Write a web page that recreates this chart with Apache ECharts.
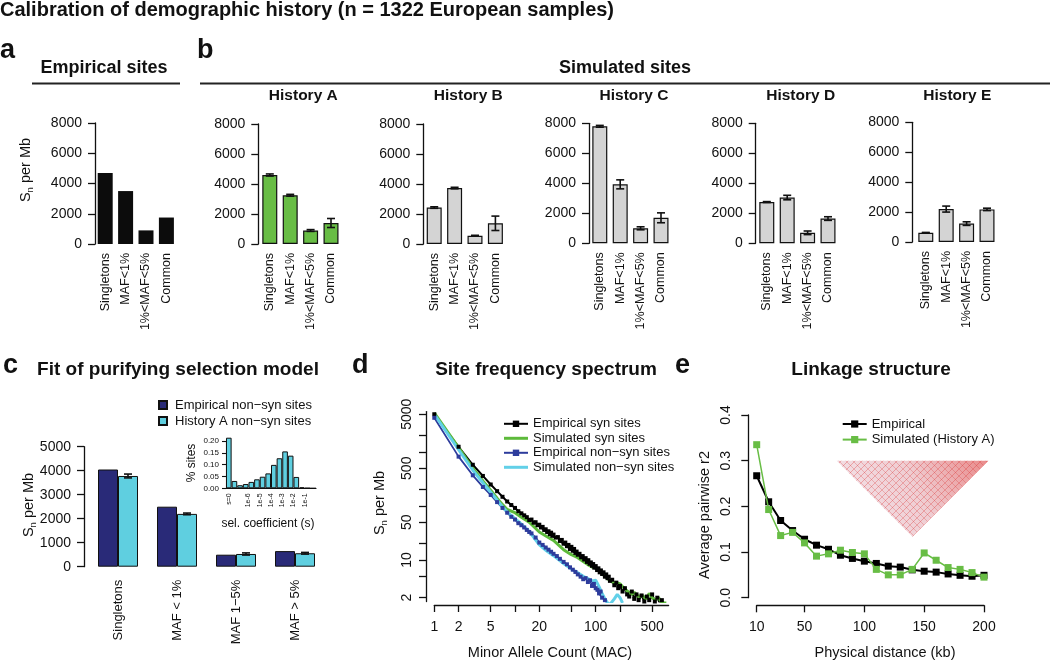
<!DOCTYPE html>
<html><head><meta charset="utf-8">
<script src="https://cdn.jsdelivr.net/npm/echarts@6/dist/echarts.min.js"></script>
<style>html,body{margin:0;padding:0;background:#fff}#c{width:1050px;height:662px}</style>
</head><body><div id="c"></div>
<script>
// ================= DATA =================
const mafCats = ['Singletons', 'MAF<1%', '1%<MAF<5%', 'Common'];
const empiricalSites = [4700, 3500, 900, 1750];
const historyNames = ['History A', 'History B', 'History C', 'History D', 'History E'];
const historyA = [4600, 3250, 900, 1400];
const historyAErr = [70, 60, 60, 300];
const historyB = [2430, 3730, 550, 1380];
const historyBErr = [50, 50, 30, 480];
const historyC = [7800, 3930, 1000, 1700];
const historyCErr = [60, 300, 100, 330];
const historyD = [2750, 3050, 700, 1650];
const historyDErr = [30, 150, 120, 120];
const historyE = [620, 2200, 1230, 2180];
const historyEErr = [20, 200, 120, 80];
const snTicks = [0, 2000, 4000, 6000, 8000];

const cCats = ['Singletons', 'MAF < 1%', 'MAF 1\u22125%', 'MAF > 5%'];
const empNonSyn = [4050, 2500, 500, 650];
const histANonSyn = [3780, 2200, 530, 560];
const histANonSynErr = [80, 35, 45, 35];

const selBinCenters = [0.5, 1.5, 2.5, 3.5, 4.5, 5.5, 6.5, 7.5, 8.5, 9.5, 10.5, 11.5, 12.5, 13.5, 14.5, 15.5];
const selFrac = [0.214, 0.031, 0.013, 0.018, 0.027, 0.038, 0.049, 0.063, 0.099, 0.127, 0.156, 0.138, 0.048, 0.004, 0.001, 0];
const selTickPos = [0.5, 4, 6, 8, 10, 12, 14];
const selTickLabels = ['s=0', '1e-6', '1e-5', '1e-4', '1e-3', '1e-2', '1e-1'];

const macEmpSyn = [1,2,3,4,5,6,7,8,9,10,11,12,13,14,15,16,17,18,19,20,21,22,23,24,25,26,27,28,29,30,32,34,36,38,40,42,44,46,48,50,52,54,56,58,60,63,66,69,72,75,78,81,84,87,90,93,96,100,104,108,112,116,120,125,130,135,140,145,150,160,170,180,190,200,215,230,245,260,280,300,320,340,370,400,430,460,500,540,580,620,660];
const empSyn = [5000,1250,580,360,250,188,148,121,104,92,80,73,67,62,55,56,49,50,44,45,40,41,36,37,33,34,30,32,28,29.5,26,26.5,22.5,23.5,20,21,18,19,16,17.5,14.8,16,13.5,14.3,12.5,13,11.2,11.8,10.2,10.8,9.2,9.9,8.5,9.0,7.8,8.4,7.2,7.7,6.5,7.0,5.9,6.4,5.5,5.9,4.9,5.4,4.6,4.9,4.1,4.3,3.4,3.8,3.0,3.3,2.6,3.0,2.3,2.1,2.6,1.9,2.3,1.8,2.2,1.7,2.1,1.8,2.3,1.7,2.0,1.6,1.8];
const macSimSyn = [1,2,3,4,5,6,7,8,10,12,15,20,25,30,40,50,60,70,80,90,100,110,120,140,160,180,200,220,250,280,300,340,380,420,460,500,550,600,650,700,750];
const simSyn = [5300,1200,500,290,195,140,106,86,75,62,50,33,27,23,15.5,12.5,11,9.4,8.2,7.4,7.1,6.6,5.6,4.5,3.9,3.8,3.6,3.1,2.6,2.3,2.5,2.1,2.2,1.9,2.4,2.0,1.8,2.0,1.7,1.6,1.6];
const macEmpNon = [1,2,3,4,5,6,7,8,9,10,11,12,13,14,15,16,18,20,22,24,26,28,30,33,36,40,44,48,52,56,60,65,70,75,80,85,90,95,100,105,110,115,120,130,140];
const empNon = [4300,820,370,225,160,118,92,75,63,56,48,44,40,36,33,31,26,21,19,17,15.5,14.2,13,11.8,10.5,9.2,8.3,7.3,6.6,6.0,5.4,4.9,4.4,4.6,3.9,4.2,3.3,3.6,3.0,2.8,2.4,2.6,2.0,1.8,1.6];
const macSimNon = [1,2,3,4,5,6,7,8,10,12,15,20,25,30,40,50,60,70,80,90,100,110,120,130,140,150,170,185,200,215];
const simNon = [5000,1100,460,270,180,128,97,77,58,46,34,19,14.5,12,8.6,6.8,5.8,5.0,4.5,4.1,4.2,3.2,2.4,1.9,1.6,1.5,1.9,2.3,2.0,1.6];
const sfsXTicks = [1, 2, 5, 10, 20, 50, 100, 200, 500];
const sfsXLabels = [1, 2, 5, 20, 100, 500];
const sfsYTicks = [2, 5, 10, 20, 50, 100, 200, 500, 1000, 2000, 5000];
const sfsYLabels = [2, 10, 50, 500, 5000];

const distKb = [10,20,30,40,50,60,70,80,90,100,110,120,130,140,150,160,170,180,190,200];
const empR2 = [0.267,0.210,0.169,0.147,0.128,0.115,0.106,0.093,0.086,0.080,0.075,0.069,0.067,0.061,0.058,0.056,0.052,0.049,0.047,0.049];
const simR2 = [0.335,0.193,0.136,0.143,0.120,0.091,0.096,0.104,0.099,0.096,0.062,0.050,0.050,0.062,0.098,0.082,0.066,0.062,0.055,0.045];
const ldXTicks = [10, 50, 100, 150, 200];

// ================= STYLE / LAYOUT =================
const F = '"Liberation Sans", Arial, Helvetica, sans-serif';
const INK = '#111';
const GREEN = '#68bd45', GRAY = '#d4d4d4', NAVY = '#292a78', CYAN = '#5fcfe0', BLUE = '#2d3c9c', CYANL = '#62d0e8';
const plain = v => String(v);

const bValues = [empiricalSites, historyA, historyB, historyC, historyD, historyE];
const bErrors = [null, historyAErr, historyBErr, historyCErr, historyDErr, historyEErr];
const bColors = ['#0c0c0c', GREEN, GRAY, GRAY, GRAY, GRAY];
const bLayout = [
  {axisX: 95, barsX: 97.7, top: 123, bottom: 244},
  {axisX: 258.3, barsX: 262.3, top: 124, bottom: 244},
  {axisX: 423.3, barsX: 426.7, top: 124, bottom: 244},
  {axisX: 589, barsX: 592.3, top: 123.3, bottom: 243.3},
  {axisX: 755.7, barsX: 759.3, top: 123.3, bottom: 243.3},
  {axisX: 912.3, barsX: 918.3, top: 122.3, bottom: 242}
];
const PITCH = 20.4, BARW = 15;

const grids = [], xAxes = [], yAxes = [], series = [], graphics = [];

function errSeries(idx, vals, errs, dx, capW) {
  return {
    type: 'custom', xAxisIndex: idx, yAxisIndex: idx, z: 5, silent: true,
    encode: {x: 0, y: 1},
    data: vals.map((v, i) => [i, v, errs[i]]),
    renderItem(params, api) {
      const x = api.value(0), v = api.value(1), e = api.value(2);
      const t = api.coord([x, v + e]), b = api.coord([x, v - e]);
      const cx = t[0] + dx, h = capW / 2;
      const st = {stroke: INK, lineWidth: 1.6};
      return {type: 'group', children: [
        {type: 'line', shape: {x1: cx, y1: t[1], x2: cx, y2: b[1]}, style: st},
        {type: 'line', shape: {x1: cx - h, y1: t[1], x2: cx + h, y2: t[1]}, style: st},
        {type: 'line', shape: {x1: cx - h, y1: b[1], x2: cx + h, y2: b[1]}, style: st}
      ]};
    }
  };
}

function txt(x, y, text, size, opts) {
  opts = opts || {};
  graphics.push({
    type: 'text', x: x, y: y, rotation: opts.rot || 0, silent: true,
    style: Object.assign({
      text: text, fontSize: size, fontFamily: F, fontWeight: opts.bold ? 'bold' : 'normal',
      fill: INK, align: opts.align || 'center', verticalAlign: 'middle',
      textAlign: opts.align || 'center', textVerticalAlign: 'middle'
    }, opts.rich ? {rich: opts.rich} : {})
  });
}
function hline(x1, x2, y, w) {
  graphics.push({type: 'line', silent: true, shape: {x1: x1, y1: y, x2: x2, y2: y}, style: {stroke: '#222', lineWidth: w}});
}
const snRich = {a: {fontSize: 14.5, fontFamily: F}, n: {fontSize: 9.5, fontFamily: F, padding: [8, 0, 0, 0]}};

// ---------- panels a, b ----------
bLayout.forEach((L, i) => {
  const left = L.barsX - (PITCH - BARW) / 2;
  grids.push({left: left, top: L.top, width: PITCH * 4, height: L.bottom - L.top});
  xAxes.push({type: 'category', gridIndex: i, data: mafCats,
    axisLine: {show: false}, axisTick: {show: false},
    axisLabel: {rotate: 90, interval: 0, fontSize: 12.5, fontFamily: F, color: INK, margin: 9}});
  yAxes.push({type: 'value', gridIndex: i, min: snTicks[0], max: snTicks[snTicks.length - 1], interval: 2000,
    offset: left - L.axisX,
    axisLine: {show: true, lineStyle: {color: INK, width: 1.3}},
    axisTick: {show: true, length: 7, lineStyle: {color: INK, width: 1.3}},
    axisLabel: {fontSize: 14, fontFamily: F, color: INK, margin: 13, formatter: plain},
    splitLine: {show: false}});
  series.push({type: 'bar', xAxisIndex: i, yAxisIndex: i, data: bValues[i], barWidth: BARW,
    itemStyle: {color: bColors[i], borderColor: INK, borderWidth: i === 0 ? 0 : 1.2}, silent: true});
  if (bErrors[i]) series.push(errSeries(i, bValues[i], bErrors[i], 0, 8));
  if (i > 0) txt(L.axisX + 45, 96, historyNames[i - 1], 15.5, {bold: true});
});

// ---------- panel c main ----------
grids.push({left: 88.5, top: 446.7, width: 236, height: 120});
xAxes.push({type: 'category', gridIndex: 6, data: cCats, axisLine: {show: false}, axisTick: {show: false},
  axisLabel: {rotate: 90, interval: 0, fontSize: 13, fontFamily: F, color: INK, margin: 13}});
yAxes.push({type: 'value', gridIndex: 6, min: 0, max: 5000, interval: 1000, offset: 4.5,
  axisLine: {show: true, lineStyle: {color: INK, width: 1.3}},
  axisTick: {show: true, length: 7, lineStyle: {color: INK, width: 1.3}},
  axisLabel: {fontSize: 14, fontFamily: F, color: INK, margin: 13, formatter: plain}, splitLine: {show: false}});
series.push({type: 'bar', name: 'Empirical non\u2212syn sites', xAxisIndex: 6, yAxisIndex: 6, data: empNonSyn,
  barWidth: 20, barGap: '0%', itemStyle: {color: NAVY, borderColor: INK, borderWidth: 1}});
series.push({type: 'bar', name: 'History A non\u2212syn sites', xAxisIndex: 6, yAxisIndex: 6, data: histANonSyn,
  barWidth: 20, barGap: '0%', itemStyle: {color: CYAN, borderColor: INK, borderWidth: 1}});
series.push(errSeries(6, histANonSyn, histANonSynErr, 10, 8));

// ---------- panel c inset ----------
const selLabelMap = {};
selTickPos.forEach((p, i) => { selLabelMap[p] = selTickLabels[i]; });
grids.push({left: 226, top: 441, width: 90, height: 47.3});
xAxes.push({type: 'value', gridIndex: 7, min: 0, max: 16,
  axisLine: {show: true, onZero: false, lineStyle: {color: INK, width: 1.2}}, axisTick: {show: false},
  axisLabel: {customValues: selTickPos, rotate: 90, fontSize: 7, fontFamily: F, color: INK, margin: 5,
    formatter: v => selLabelMap[v] || ''},
  splitLine: {show: false}});
yAxes.push({type: 'value', gridIndex: 7, min: 0, max: 0.2, interval: 0.05, offset: 1,
  axisLine: {show: true, lineStyle: {color: INK, width: 1.1}},
  axisTick: {show: true, length: 4, lineStyle: {color: INK, width: 1.1}},
  axisLabel: {fontSize: 8, fontFamily: F, color: INK, margin: 6, formatter: v => v.toFixed(2)},
  splitLine: {show: false}});
series.push({type: 'bar', xAxisIndex: 7, yAxisIndex: 7, clip: false, barWidth: 5.6, silent: true,
  data: selBinCenters.map((c, i) => [c, selFrac[i]]),
  itemStyle: {color: CYAN, borderColor: INK, borderWidth: 1}});

// ---------- panel d ----------
grids.push({left: 434.3, top: 411.6, width: 234.3, height: 189.9});
xAxes.push({type: 'log', logBase: 10, gridIndex: 8, min: 1, max: 800, offset: 3.5,
  axisLine: {show: true, onZero: false, lineStyle: {color: INK, width: 1.3}},
  axisTick: {show: true, customValues: sfsXTicks, length: 7, lineStyle: {color: INK, width: 1.3}},
  axisLabel: {customValues: sfsXLabels, fontSize: 14, fontFamily: F, color: INK, margin: 15, formatter: plain},
  splitLine: {show: false}, minorTick: {show: false}});
yAxes.push({type: 'log', logBase: 10, gridIndex: 8, min: 1.7, max: 5600, offset: 8.3,
  axisLine: {show: true, onZero: false, lineStyle: {color: INK, width: 1.3}},
  axisTick: {show: true, customValues: sfsYTicks, length: 7, lineStyle: {color: INK, width: 1.3}},
  axisLabel: {customValues: sfsYLabels, rotate: 90, fontSize: 14, fontFamily: F, color: INK, margin: 12, formatter: plain},
  splitLine: {show: false}});
function sfsLine(name, xs, ys, color, width, sym) {
  return {type: 'line', name: name, xAxisIndex: 8, yAxisIndex: 8, clip: true, silent: true,
    data: xs.map((m, i) => [m, ys[i]]),
    symbol: sym ? 'rect' : 'none', symbolSize: 4, showSymbol: !!sym,
    lineStyle: {color: color, width: width}, itemStyle: {color: color}};
}
series.push(sfsLine('d|Empirical syn sites', macEmpSyn, empSyn, '#000', 2, true));
series.push(sfsLine('d|Simulated syn sites', macSimSyn, simSyn, '#5dba3b', 3, false));
series.push(sfsLine('d|Empirical non\u2212syn sites', macEmpNon, empNon, BLUE, 1.8, true));
series.push(sfsLine('d|Simulated non\u2212syn sites', macSimNon, simNon, CYANL, 3, false));

// ---------- panel e ----------
grids.push({left: 756.7, top: 415, width: 227.3, height: 182.7});
xAxes.push({type: 'value', gridIndex: 9, min: 10, max: 200, offset: 7.6,
  axisLine: {show: true, onZero: false, lineStyle: {color: INK, width: 1.3}},
  axisTick: {show: true, customValues: ldXTicks, length: 7, lineStyle: {color: INK, width: 1.3}},
  axisLabel: {customValues: ldXTicks, fontSize: 14, fontFamily: F, color: INK, margin: 15},
  splitLine: {show: false}});
yAxes.push({type: 'value', gridIndex: 9, min: 0, max: 0.4, interval: 0.1, offset: 8.4,
  axisLine: {show: true, lineStyle: {color: INK, width: 1.3}},
  axisTick: {show: true, length: 7, lineStyle: {color: INK, width: 1.3}},
  axisLabel: {rotate: 90, fontSize: 14, fontFamily: F, color: INK, margin: 15, formatter: v => v.toFixed(1)},
  splitLine: {show: false}});
series.push({type: 'line', name: 'e|Empirical', xAxisIndex: 9, yAxisIndex: 9, clip: false, silent: true,
  data: distKb.map((d, i) => [d, empR2[i]]), symbol: 'rect', symbolSize: 7,
  lineStyle: {color: '#000', width: 2}, itemStyle: {color: '#000'}, z: 3});
series.push({type: 'line', name: 'e|Simulated (History A)', xAxisIndex: 9, yAxisIndex: 9, clip: false, silent: true,
  data: distKb.map((d, i) => [d, simR2[i]]), symbol: 'rect', symbolSize: 7,
  lineStyle: {color: GREEN, width: 1.5}, itemStyle: {color: GREEN}, z: 4});

// ---------- LD heatmap decoration (panel e) ----------
const pat = document.createElement('canvas');
pat.width = 7; pat.height = 7;
(function () {
  const g = pat.getContext('2d');
  g.lineWidth = 1;
  g.strokeStyle = 'rgba(220,30,30,0.30)';
  g.beginPath(); g.moveTo(0, 7); g.lineTo(7, 0); g.stroke();
  g.strokeStyle = 'rgba(220,30,30,0.18)';
  g.beginPath(); g.moveTo(-3.5, 3.5); g.lineTo(3.5, -3.5); g.moveTo(3.5, 10.5); g.lineTo(10.5, 3.5); g.stroke();
  g.strokeStyle = 'rgba(210,40,40,0.25)';
  g.beginPath(); g.moveTo(0, 0); g.lineTo(7, 7); g.stroke();
  g.strokeStyle = 'rgba(130,150,210,0.22)';
  g.beginPath(); g.moveTo(-3.5, 3.5); g.lineTo(3.5, 10.5); g.moveTo(3.5, -3.5); g.lineTo(10.5, 3.5); g.stroke();
})();
const triPts = [[836.7, 460.7], [988.3, 460.7], [912.5, 536.7]];
graphics.push({type: 'polygon', silent: true, shape: {points: triPts},
  style: {fill: {type: 'linear', x: 0, y: 1, x2: 1, y2: 0, colorStops: [
    {offset: 0, color: '#f4e6ec'}, {offset: 0.55, color: '#efcdd2'}, {offset: 1, color: '#e98a8a'}]}}, z: 1});
graphics.push({type: 'polygon', silent: true, shape: {points: triPts},
  style: {fill: {image: pat, repeat: 'repeat'}}, z: 2});

// ---------- texts / headings ----------
txt(0, 10, 'Calibration of demographic history (n = 1322 European samples)', 20, {bold: true, align: 'left'});
txt(0, 50.5, 'a', 27, {bold: true, align: 'left'});
txt(197, 50.5, 'b', 27, {bold: true, align: 'left'});
txt(104, 68.5, 'Empirical sites', 18, {bold: true});
txt(625, 68.5, 'Simulated sites', 18, {bold: true});
hline(32, 180, 83.5, 2);
hline(200, 1050, 83.5, 2);
txt(26, 170, '{a|S}{n|n}{a| per Mb}', 14.5, {rot: Math.PI / 2, rich: snRich});

txt(3, 366, 'c', 27, {bold: true, align: 'left'});
txt(352, 366, 'd', 27, {bold: true, align: 'left'});
txt(675, 366, 'e', 27, {bold: true, align: 'left'});
txt(178, 370, 'Fit of purifying selection model', 19, {bold: true});
txt(546, 370, 'Site frequency spectrum', 19, {bold: true});
txt(871, 370, 'Linkage structure', 19, {bold: true});

txt(29, 505, '{a|S}{n|n}{a| per Mb}', 14.5, {rot: Math.PI / 2, rich: snRich});
txt(380, 503, '{a|S}{n|n}{a| per Mb}', 14.5, {rot: Math.PI / 2, rich: snRich});
txt(705, 515, 'Average pairwise r2', 14.5, {rot: Math.PI / 2});
txt(192, 463, '% sites', 12, {rot: Math.PI / 2});
txt(268, 524, 'sel. coefficient (s)', 12);
txt(550, 653, 'Minor Allele Count (MAC)', 14.5);
txt(885, 653, 'Physical distance (kb)', 14.5);

const stripName = n => n.replace(/^[a-z]\|/, '');
const lineIcon = 'path://M0,0H24V3H0Z';
const option = {
  animation: false,
  backgroundColor: '#fff',
  grid: grids, xAxis: xAxes, yAxis: yAxes, series: series, graphic: graphics,
  legend: [
    {left: 153, top: 393, orient: 'vertical', icon: 'rect', itemWidth: 8, itemHeight: 8, itemGap: 2,
      data: ['Empirical non\u2212syn sites', 'History A non\u2212syn sites'], selectedMode: false,
      textStyle: {fontSize: 13, fontFamily: F, color: INK, lineHeight: 14, padding: [0, 0, 0, 3]}},
    {left: 498, top: 411.8, orient: 'vertical', itemWidth: 24, itemHeight: 8, itemGap: 0.5, selectedMode: false,
      data: ['d|Empirical syn sites', {name: 'd|Simulated syn sites', icon: lineIcon},
        'd|Empirical non\u2212syn sites', {name: 'd|Simulated non\u2212syn sites', icon: lineIcon}],
      formatter: stripName,
      textStyle: {fontSize: 13, fontFamily: F, color: INK, lineHeight: 14, padding: [0, 0, 0, 0]}},
    {left: 836.7, top: 412, orient: 'vertical', itemWidth: 24, itemHeight: 9, itemGap: 1.6, selectedMode: false,
      data: ['e|Empirical', 'e|Simulated (History A)'], formatter: stripName,
      textStyle: {fontSize: 13, fontFamily: F, color: INK, lineHeight: 14, padding: [0, 0, 0, 0]}}
  ]
};
const chart = echarts.init(document.getElementById('c'), null, {renderer: 'canvas'});
chart.setOption(option);
</script>
</body></html>
